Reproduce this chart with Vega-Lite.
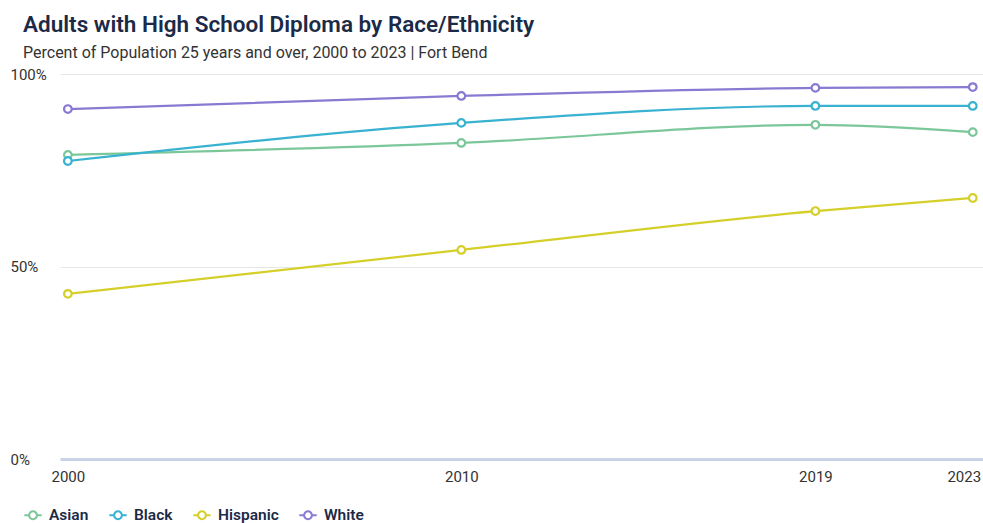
{
  "$schema": "https://vega.github.io/schema/vega-lite/v6.json",
  "width": 923,
  "height": 385,
  "autosize": "none",
  "padding": {"left": 60, "top": 74, "right": 0, "bottom": 64},
  "background": "white",
  "title": {
    "text": "Adults with High School Diploma by Race/Ethnicity",
    "subtitle": "Percent of Population 25 years and over, 2000 to 2023 | Fort Bend",
    "anchor": "start",
    "frame": "group",
    "dx": -37,
    "offset": 6,
    "font": "Roboto",
    "fontSize": 22.5,
    "fontWeight": 600,
    "color": "#1b2a47",
    "subtitleFont": "Roboto",
    "subtitleFontSize": 16,
    "subtitleColor": "#333333",
    "subtitlePadding": 9
  },
  "config": {
    "view": {"stroke": null},
    "font": "Roboto"
  },
  "data": {
    "values": [
      {"year": 2000, "group": "Asian", "pct": 79.0},
      {"year": 2010, "group": "Asian", "pct": 82.1},
      {"year": 2019, "group": "Asian", "pct": 86.8},
      {"year": 2023, "group": "Asian", "pct": 84.9},
      {"year": 2000, "group": "Black", "pct": 77.4},
      {"year": 2010, "group": "Black", "pct": 87.3},
      {"year": 2019, "group": "Black", "pct": 91.7},
      {"year": 2023, "group": "Black", "pct": 91.7},
      {"year": 2000, "group": "Hispanic", "pct": 42.9},
      {"year": 2010, "group": "Hispanic", "pct": 54.3},
      {"year": 2019, "group": "Hispanic", "pct": 64.4},
      {"year": 2023, "group": "Hispanic", "pct": 67.8},
      {"year": 2000, "group": "White", "pct": 90.9},
      {"year": 2010, "group": "White", "pct": 94.3},
      {"year": 2019, "group": "White", "pct": 96.4},
      {"year": 2023, "group": "White", "pct": 96.6}
    ]
  },
  "encoding": {
    "x": {
      "field": "year",
      "type": "quantitative",
      "scale": {"domain": [1999.8, 2023.26], "nice": false, "zero": false},
      "axis": {
        "title": null,
        "values": [2000, 2010, 2019, 2023],
        "format": "d",
        "grid": false,
        "ticks": false,
        "domain": true,
        "domainColor": "#c9d3e8",
        "domainWidth": 3,
        "labelPadding": 10,
        "labelFontSize": 15,
        "labelColor": "#333333",
        "labelOffset": {"condition": {"test": "datum.value == 2023", "value": -9}, "value": 0}
      }
    },
    "y": {
      "field": "pct",
      "type": "quantitative",
      "scale": {"domain": [0, 100], "nice": false},
      "axis": {
        "title": null,
        "values": [0, 50, 100],
        "labelExpr": "datum.value + '%'",
        "grid": true,
        "gridColor": "#e6e6e6",
        "ticks": false,
        "domain": false,
        "labelAlign": "left",
        "labelPadding": 50,
        "labelFontSize": 15,
        "labelColor": "#333333"
      }
    }
  },
  "layer": [
    {
      "mark": {"type": "line", "interpolate": "monotone", "strokeWidth": 2.2},
      "encoding": {
        "stroke": {
          "field": "group",
          "type": "nominal",
          "scale": {
            "domain": ["Asian", "Black", "Hispanic", "White"],
            "range": ["#7cc79a", "#38b2d0", "#d5cf2a", "#8a79d2"]
          },
          "legend": {
            "title": null,
            "orient": "none",
            "direction": "horizontal",
            "legendX": -37,
            "legendY": 431,
            "symbolType": "M-1,0L-0.45,0M0.45,0L1,0M-0.45,0A0.45,0.45 0 1,0 0.45,0A0.45,0.45 0 1,0 -0.45,0",
            "symbolSize": 300,
            "symbolStrokeWidth": 2,
            "symbolFillColor": "white",
            "labelFontSize": 15.5,
            "labelFontWeight": 600,
            "labelColor": "#1b2a47",
            "columnPadding": 16,
            "labelOffset": 6
          }
        }
      }
    },
    {
      "mark": {"type": "point", "filled": true, "fill": "white", "size": 58, "strokeWidth": 2.2, "opacity": 1},
      "encoding": {
        "stroke": {"field": "group", "type": "nominal"}
      }
    }
  ]
}
